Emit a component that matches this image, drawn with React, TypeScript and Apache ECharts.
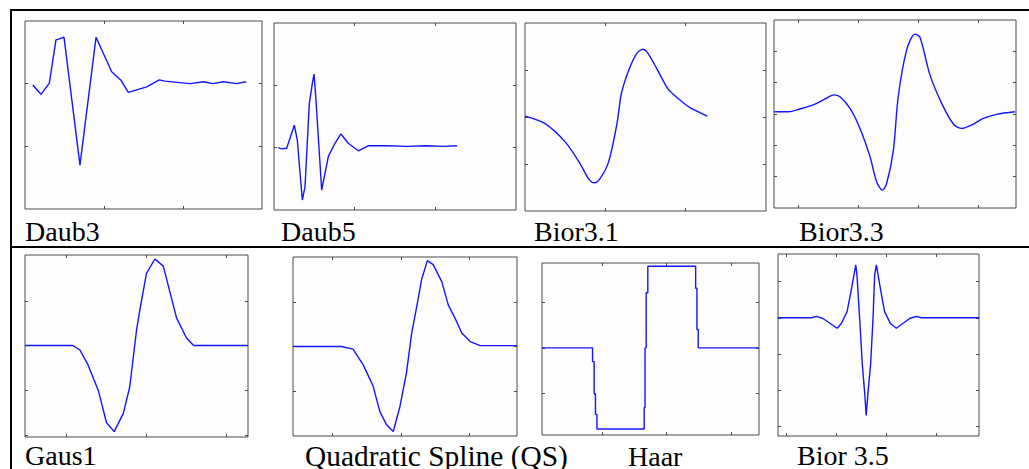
import React, { useEffect, useRef } from "react";
import * as echarts from "echarts";

// ---- wavelet curves (x, y in each panel's own units) ----
const daub3: [number, number][] = [
  [0.097, -0.02], [0.203, -0.17], [0.308, 0.01], [0.392, 0.7], [0.443, 0.72], [0.494, 0.74],
  [0.696, -1.3], [0.899, 0.74], [1.097, 0.19], [1.211, 0.06], [1.308, -0.14], [1.54, -0.05],
  [1.7, 0.06], [1.77, 0.04], [2.09, 0.0], [2.26, 0.03], [2.38, 0.0], [2.51, 0.03], [2.68, 0.0], [2.8, 0.03],
];
const daub5: [number, number][] = [
  [0.053, 0.0], [0.095, -0.02], [0.157, -0.01], [0.252, 0.36], [0.289, 0.12], [0.351, -0.84],
  [0.384, -0.63], [0.438, 0.71], [0.475, 1.03], [0.496, 1.18], [0.52, 0.77], [0.591, -0.68],
  [0.674, -0.14], [0.756, 0.07], [0.83, 0.22], [0.92, 0.07], [1.045, -0.05], [1.169, 0.03],
  [1.4, 0.03], [1.64, 0.02], [1.89, 0.03], [2.1, 0.02], [2.27, 0.03],
];
const bior31: [number, number][] = [
  [0.0, 0.02], [0.25, -0.14], [0.5, -0.53], [0.685, -0.99], [0.79, -1.31], [0.86, -1.4],
  [0.934, -1.31], [1.04, -0.96], [1.145, -0.14], [1.2, 0.5], [1.29, 0.99], [1.39, 1.35],
  [1.466, 1.44], [1.52, 1.38], [1.64, 1.03], [1.78, 0.6], [1.91, 0.39], [2.055, 0.2], [2.27, 0.02],
];
const bior33: [number, number][] = [
  [-0.395, 0.07], [-0.16, 0.07], [0.033, 0.16], [0.255, 0.29], [0.45, 0.48], [0.6, 0.61],
  [0.7, 0.55], [0.867, 0.18], [1.033, -0.46], [1.2, -1.36], [1.31, -2.16], [1.405, -2.43],
  [1.478, -2.21], [1.59, -1.15], [1.67, 0.55], [1.81, 2.04], [1.95, 2.55], [2.033, 2.45],
  [2.2, 1.24], [2.395, 0.34], [2.59, -0.32], [2.73, -0.46], [2.895, -0.35], [3.09, -0.14],
  [3.31, -0.01], [3.617, 0.07],
];
const gaus1: [number, number][] = [
  [-0.52, 0], [0.08, 0], [0.167, -0.1], [0.27, -0.44], [0.396, -1.0], [0.5, -1.73],
  [0.596, -1.93], [0.71, -1.52], [0.79, -0.93], [0.876, 0.35], [0.917, 0.8], [1.0, 1.62],
  [1.105, 1.94], [1.21, 1.78], [1.376, 0.62], [1.5, 0.17], [1.59, 0], [2.27, 0],
];
const qspline: [number, number][] = [
  [-0.577, 0], [0.13, 0], [0.3, -0.06], [0.448, -0.41], [0.594, -0.89], [0.69, -1.45],
  [0.79, -1.75], [0.887, -1.9], [0.985, -1.34], [1.08, -0.59], [1.156, 0.3], [1.23, 0.89],
  [1.3, 1.49], [1.385, 1.92], [1.47, 1.83], [1.595, 1.45], [1.69, 0.93], [1.79, 0.63],
  [1.888, 0.3], [2.01, 0.11], [2.157, 0.02], [2.694, 0.02],
];
const haar: [number, number][] = [
  [-0.927, 0], [-0.145, 0], [-0.145, -0.3], [-0.12, -0.3], [-0.12, -1.0], [-0.1, -1.0],
  [-0.1, -1.45], [-0.077, -1.45], [-0.077, -1.77], [0.654, -1.77], [0.654, -1.3],
  [0.667, -1.3], [0.667, 0.0], [0.685, 0.0], [0.685, 1.2], [0.71, 1.2], [0.71, 1.78],
  [1.45, 1.78], [1.45, 1.3], [1.47, 1.3], [1.47, 0.4], [1.49, 0.4], [1.49, 0], [2.43, 0],
];
const bior35: [number, number][] = [
  [-0.175, 0], [0.497, 0], [0.6, 0.04], [0.73, -0.02], [1.015, -0.29], [1.1, -0.16],
  [1.215, 0.17], [1.3, 0.77], [1.39, 1.46], [1.415, 1.18], [1.47, -0.06], [1.52, -1.26],
  [1.57, -2.09], [1.6, -2.7], [1.635, -2.09], [1.69, -1.26], [1.736, -0.06], [1.77, 1.18],
  [1.805, 1.46], [1.89, 0.77], [1.97, 0.17], [2.086, -0.16], [2.207, -0.29], [2.475, -0.02],
  [2.61, 0.04], [2.71, 0], [3.87, 0],
];

const names = ["Daub3", "Daub5", "Bior3.1", "Bior3.3", "Gaus1", "Quadratic Spline (QS)", "Haar", "Bior 3.5"];
const curves = [daub3, daub5, bior31, bior33, gaus1, qspline, haar, bior35];
const smoothing = [0, 0, 0.3, 0.3, 0, 0, 0, 0];

// axis extents and tick values per panel
const xRanges: [number, number][] = [[0, 3], [0, 3], [0, 3], [-0.4, 3.633], [-0.52, 2.27], [-0.577, 2.694], [-0.927, 2.43], [-0.175, 3.87]];
const yRanges: [number, number][] = [[-2, 1], [-1, 2], [-2, 2], [-3, 3], [-2.05, 2.03], [-2, 2], [-1.9, 1.85], [-3.27, 1.764]];
const xTicks: number[][] = [[1, 2], [1, 2], [1, 2], [0, 1, 2, 3], [0, 1, 2], [0, 1, 2], [0, 1, 2], [0, 1, 2, 3]];
const yTicks: number[][] = [[-1, 0], [0, 1], [-1, 0, 1], [-2, -1, 0, 1, 2], [-2, -1, 0, 1], [-1, 0, 1], [-1, 0, 1], [-3, -2, -1, 0, 1]];

// layout (pixels)
const boxes = [
  { left: 25, top: 21, width: 237, height: 188 },
  { left: 274, top: 23, width: 242, height: 187 },
  { left: 525, top: 23, width: 241, height: 188 },
  { left: 774, top: 20, width: 242, height: 188 },
  { left: 25, top: 255, width: 223, height: 182 },
  { left: 293, top: 257, width: 224, height: 179 },
  { left: 542, top: 263, width: 217, height: 172 },
  { left: 778, top: 254, width: 201, height: 182 },
];
const labelPos = [
  [25, 240, 28], [281, 240, 28], [534, 240, 28], [799, 240, 28],
  [25, 464, 28], [305, 465, 29.4], [628, 465, 28], [797, 464, 28],
];

const FRAME = "#4a4a4a";
const BLUE = "#1414ff";

export default function App() {
  const ref = useRef<HTMLDivElement>(null);
  useEffect(() => {
    if (!ref.current) return;
    const chart = echarts.init(ref.current, undefined, { renderer: "svg" });
    const grid: any[] = [];
    const xAxis: any[] = [];
    const yAxis: any[] = [];
    const series: any[] = [];
    const tick = (vals: number[]) => ({
      show: true,
      inside: true,
      length: 3,
      customValues: vals,
      lineStyle: { color: FRAME, width: 1 },
    });
    boxes.forEach((b, i) => {
      grid.push({
        ...b,
        show: true,
        borderColor: FRAME,
        borderWidth: 1,
        backgroundColor: "#fdfdfd",
        containLabel: false,
      });
      ["bottom", "top"].forEach((pos) => {
        xAxis.push({
          type: "value",
          gridIndex: i,
          position: pos,
          min: xRanges[i][0],
          max: xRanges[i][1],
          axisLine: { show: false, onZero: false },
          axisTick: tick(xTicks[i]),
          axisLabel: { show: false, customValues: xTicks[i] },
          splitLine: { show: false },
        });
      });
      ["left", "right"].forEach((pos) => {
        yAxis.push({
          type: "value",
          gridIndex: i,
          position: pos,
          min: yRanges[i][0],
          max: yRanges[i][1],
          axisLine: { show: false, onZero: false },
          axisTick: tick(yTicks[i]),
          axisLabel: { show: false, customValues: yTicks[i] },
          splitLine: { show: false },
        });
      });
      series.push({
        type: "line",
        name: names[i],
        xAxisIndex: 2 * i,
        yAxisIndex: 2 * i,
        data: curves[i],
        smooth: smoothing[i] || false,
        showSymbol: false,
        symbol: "none",
        lineStyle: { color: BLUE, width: 1.4 },
        z: 3,
      });
    });

    const graphic: any[] = [
      { type: "rect", shape: { x: 10, y: 9, width: 1019, height: 2 }, style: { fill: "#000" } },
      { type: "rect", shape: { x: 10, y: 9, width: 2, height: 460 }, style: { fill: "#000" } },
      { type: "rect", shape: { x: 10, y: 246, width: 1019, height: 2 }, style: { fill: "#000" } },
    ];
    names.forEach((n, i) => {
      const fs = labelPos[i][2];
      graphic.push({
        type: "text",
        x: labelPos[i][0],
        y: labelPos[i][1] - 0.3 * fs,
        style: {
          text: n,
          fontSize: fs,
          fontFamily: "Liberation Serif",
          fill: "#000",
          verticalAlign: "middle",
          align: "left",
        },
      });
    });

    chart.setOption({
      animation: false,
      backgroundColor: "#ffffff",
      grid,
      xAxis,
      yAxis,
      series,
      graphic,
    });
    return () => chart.dispose();
  }, []);
  return (
    <div
      ref={ref}
      style={{ position: "absolute", left: 0, top: 0, width: 1029, height: 469 }}
    />
  );
}
